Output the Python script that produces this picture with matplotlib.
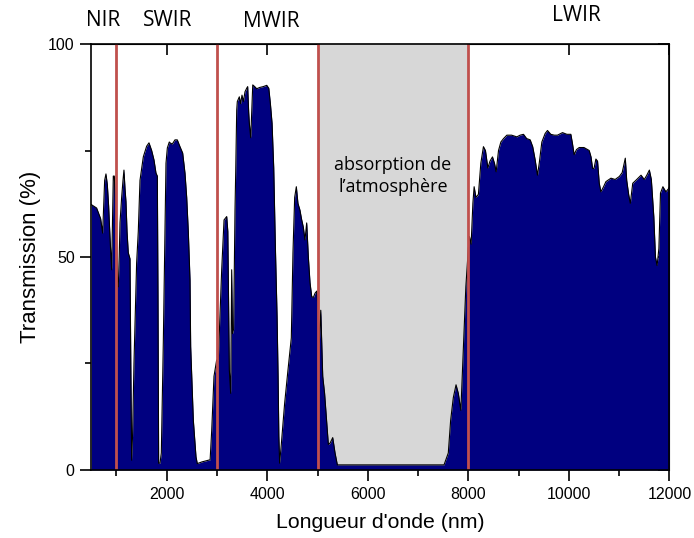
import matplotlib
matplotlib.use("Agg")
import matplotlib.pyplot as plt
from matplotlib.ticker import MultipleLocator

# Atmospheric transmission
wavelength_nm = [
    500, 605, 685, 725, 745, 765, 791, 818, 844, 871, 904, 920, 937, 957, 977, 995,
    1017, 1036, 1055, 1070, 1103, 1130, 1149, 1170, 1189, 1210, 1235, 1269, 1285, 1302,
    1320, 1348, 1401, 1434, 1468, 1534, 1600, 1647, 1700, 1746, 1786, 1813, 1826, 1839,
    1866, 1892, 1932, 1965, 1985, 2012, 2051, 2065, 2110, 2164, 2210, 2260, 2317, 2363,
    2397, 2429, 2463, 2476, 2529, 2582, 2608, 2700, 2800, 2863, 2895, 2940, 2993, 3026,
    3060, 3093, 3140, 3193, 3215, 3245, 3272, 3292, 3308, 3330, 3358, 3372, 3392, 3404,
    3444, 3470, 3497, 3525, 3557, 3590, 3610, 3630, 3643, 3671, 3690, 3711, 3750, 3790,
    3850, 3920, 3990, 4030, 4062, 4095, 4128, 4162, 4195, 4215, 4230, 4246, 4279, 4345,
    4412, 4478, 4511, 4545, 4578, 4610, 4650, 4680, 4717, 4750, 4784, 4817, 4850, 4884,
    4917, 4950, 4985, 5010, 5036, 5064, 5103, 5140, 5183, 5215, 5249, 5302, 5348, 5394,
    5500, 6000, 6500, 7000, 7516, 7601, 7648, 7701, 7755, 7800, 7851, 7884, 7917, 7950,
    7977, 8000, 8022, 8055, 8090, 8115, 8150, 8200, 8248, 8300, 8340, 8388, 8430, 8480,
    8520, 8553, 8600, 8647, 8700, 8766, 8860, 8965, 9030, 9097, 9160, 9230, 9280, 9329,
    9375, 9410, 9462, 9528, 9574, 9640, 9710, 9773, 9873, 9960, 10039, 10070, 10105,
    10150, 10205, 10300, 10404, 10440, 10471, 10500, 10537, 10570, 10604, 10637, 10690,
    10737, 10837, 10920, 11003, 11060, 11122, 11150, 11190, 11222, 11270, 11350, 11435,
    11500, 11550, 11601, 11640, 11689, 11722, 11755, 11790, 11822, 11870, 11930, 11980,
    12000,
]
transmission_pct = [
    62.3, 61.5, 59.0, 55.6, 62.0, 68.0, 69.5, 67.0, 62.0, 54.7, 47.0, 58.0, 69.0, 69.0, 64.0, 58.0,
    45.0, 43.0, 50.0, 58.0, 64.0, 68.0, 70.4, 66.0, 63.0, 56.0, 51.0, 49.6, 25.0, 2.3,
    8.0, 25.0, 48.6, 56.0, 68.0, 73.5, 76.0, 76.8, 75.0, 72.8, 69.7, 69.0, 40.6, 1.6,
    1.6, 4.0, 30.0, 56.0, 72.0, 75.6, 77.0, 76.8, 76.5, 77.5, 77.5, 76.0, 74.4, 69.7,
    64.0, 56.0, 44.6, 29.0, 11.7, 3.1, 1.5, 1.9, 2.2, 2.4, 9.4, 22.0, 25.8, 25.8,
    36.8, 47.0, 58.7, 59.5, 56.0, 23.5, 18.0, 47.0, 32.0, 33.0, 61.0, 70.0, 84.5, 86.5,
    87.6, 86.0, 88.0, 86.5, 88.8, 89.6, 90.0, 84.0, 81.4, 78.0, 84.0, 90.4, 90.0, 89.5,
    89.8, 90.0, 90.3, 89.6, 86.0, 81.4, 71.0, 52.0, 36.0, 22.0, 8.0, 1.6, 6.0, 15.6,
    23.5, 31.0, 51.0, 64.0, 66.5, 62.6, 61.0, 59.0, 57.0, 54.0, 58.0, 50.0, 44.0, 40.7,
    40.5, 41.5, 42.0, 38.0, 30.0, 37.5, 22.0, 18.0, 11.0, 6.0, 6.3, 7.6, 4.0, 1.2,
    1.2, 1.2, 1.2, 1.2, 1.2, 4.0, 11.7, 17.0, 20.0, 18.0, 14.0, 23.5, 33.6, 43.0,
    48.0, 52.0, 54.8, 53.0, 62.6, 66.5, 64.0, 64.7, 72.0, 75.9, 75.0, 70.9, 72.5, 73.5,
    72.0, 70.0, 75.0, 77.0, 77.8, 78.6, 78.6, 78.2, 78.6, 78.8, 77.8, 77.5, 75.9, 72.8,
    69.2, 72.0, 77.0, 79.0, 79.7, 78.8, 78.6, 78.6, 79.2, 78.8, 78.8, 76.7, 74.0,
    75.2, 75.7, 75.7, 75.0, 73.5, 70.8, 70.8, 73.0, 72.5, 67.3, 65.3, 66.5,
    67.7, 68.5, 68.2, 68.9, 69.8, 73.2, 68.0, 64.6, 62.6, 67.3, 68.2, 69.2,
    68.2, 69.2, 70.4, 68.2, 59.5, 50.0, 48.0, 52.0, 65.0, 66.5, 65.3, 66.0,
    66.5,
]

band_edges_nm = [1000, 3000, 5000, 8000]
absorption_band_nm = [5000, 8000]
band_names = ["NIR", "SWIR", "MWIR", "LWIR"]
band_label_x_nm = [740, 2020, 4070, 10150]
band_label_y_pct = [105.6, 105.6, 105.2, 106.6]

x_ticks = [2000, 4000, 6000, 8000, 10000, 12000]
y_ticks = [0, 50, 100]

fig = plt.figure(figsize=(6.94, 5.38), dpi=100)
ax = fig.add_axes([0.1316, 0.1264, 0.8330, 0.7918])

ax.axvspan(absorption_band_nm[0], absorption_band_nm[1], color="#D7D7D7", zorder=1, lw=0)
ax.fill_between(wavelength_nm, transmission_pct, 0, color="#000080", lw=0, zorder=2)
ax.plot(wavelength_nm, transmission_pct, color="black", lw=0.8, zorder=3)
for xe in band_edges_nm:
    ax.axvline(xe, color="#C0504D", lw=2.0, zorder=4)

ax.set_xlim(500, 12000)
ax.set_ylim(0, 100)
ax.set_xticks(x_ticks)
ax.set_yticks(y_ticks)
ax.xaxis.set_minor_locator(MultipleLocator(1000))
ax.yaxis.set_minor_locator(MultipleLocator(25))
ax.tick_params(which="major", direction="out", length=8, width=1.2, labelsize=11.5, pad=4,
               labelfontfamily="Liberation Sans")
ax.tick_params(which="minor", direction="out", length=4, width=1.2)
for s in ax.spines.values():
    s.set_linewidth(1.2)
    s.set_zorder(5)

# mirrored inward major ticks on top/right
sec_x = ax.secondary_xaxis("top")
sec_x.set_xticks(x_ticks)
sec_x.tick_params(direction="in", length=8, width=1.2, labeltop=False)
sec_y = ax.secondary_yaxis("right")
sec_y.set_yticks(y_ticks)
sec_y.tick_params(direction="in", length=8, width=1.2, labelright=False)

ax.set_xlabel("Longueur d'onde (nm)", fontsize=15.3, family="Liberation Sans", labelpad=8)
ax.set_ylabel("Transmission (%)", fontsize=16, family="Liberation Sans", labelpad=5)

for name, bx, by in zip(band_names, band_label_x_nm, band_label_y_pct):
    ax.text(bx, by, name, ha="center", va="center", fontsize=15, family="Open Sans",
            clip_on=False)

ax.text(6500, 69, "absorption de\nl\u2019atmosphère", ha="center", va="center",
        fontsize=13, family="Open Sans", linespacing=1.3, zorder=6)

fig.savefig("out.png", dpi=100)
